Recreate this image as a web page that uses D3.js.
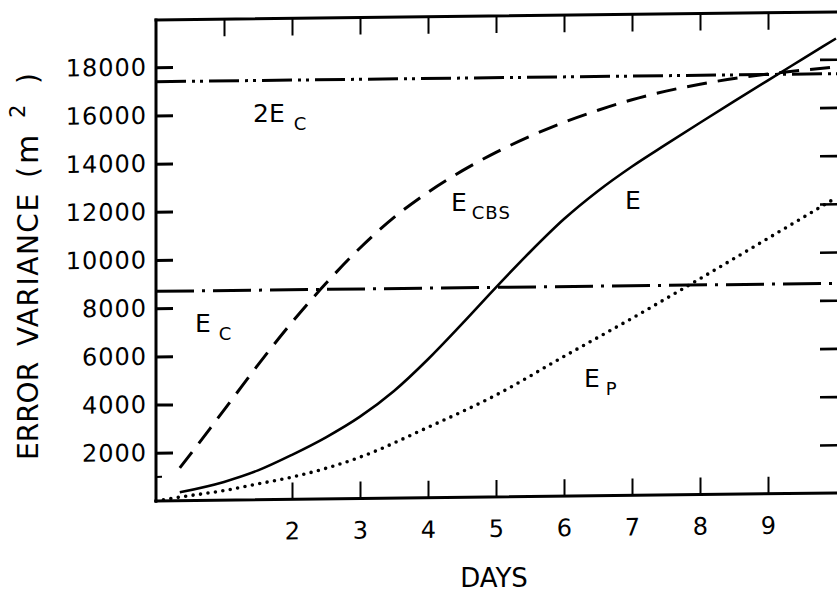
<!DOCTYPE html>
<html>
<head>
<meta charset="utf-8">
<script src="https://cdn.jsdelivr.net/npm/d3@7"></script>
<style>
  html, body { margin: 0; padding: 0; background: #fff; }
  svg { display: block; }
  text { font-family: "DejaVu Sans", sans-serif; fill: #000; }
</style>
</head>
<body>
<svg id="chart" width="837" height="596"></svg>
<script>
// Growth of forecast error variance (m^2) with forecast lead time (days)

const dayTicks = [2, 3, 4, 5, 6, 7, 8, 9];
const topDayTicks = [1, 2, 3, 4, 5, 6, 7, 8, 9];
const varianceTicks = [2000, 4000, 6000, 8000, 10000, 12000, 14000, 16000, 18000];
const minorVarianceTicks = [1000];

// climatological error variance E_C and its saturation level 2E_C
const climateVariance = 8700;
const saturationVariance = 2 * climateVariance;

// E : total forecast error variance
const errorTotal = [
  [0.35, 350], [1, 760], [1.5, 1220], [2, 1850], [2.5, 2560], [3, 3400],
  [3.5, 4450], [4, 5750], [4.5, 7200], [5, 8700], [5.5, 10150], [6, 11500],
  [6.5, 12650], [7, 13650], [7.5, 14550], [8, 15430], [8.5, 16300], [9, 17160],
  [9.5, 18010], [10, 18860]
];

// E_CBS
const errorCBS = [
  [0.35, 1360], [0.8, 3000], [1.15, 4300], [1.5, 5600], [2, 7350], [2.5, 8950],
  [3, 10400], [3.5, 11650], [4, 12680], [4.5, 13550], [5, 14300], [5.5, 14950],
  [6, 15520], [6.5, 16000], [7, 16420], [7.5, 16760], [8, 17030], [9, 17420],
  [10, 17680]
];

// E_P
const errorP = [
  [0, 0], [0.35, 150], [1, 400], [1.5, 660], [2, 925], [3, 1720], [4, 2925],
  [5, 4230], [6, 5800], [7, 7350], [8, 8960], [9, 10600], [10, 12250]
];

const svg = d3.select("#chart");
const x = d3.scaleLinear().domain([0, 10]).range([156, 836]);
const y = d3.scaleLinear().domain([0, 19960]).range([501, 20]);

const tickLen = 17;
const frameRight = 840;

// the plotted frame leans slightly: horizontal lines rise toward the right
const lean = 8 / (x(10) - x(0));
const plot = svg.append("g")
  .attr("transform", `matrix(1,${-lean},0,1,0,${lean * x(0)})`);

// frame
const frame = plot.append("g")
  .attr("fill", "none").attr("stroke", "#000").attr("stroke-width", 3)
  .attr("stroke-linecap", "square");
frame.append("line").attr("x1", x(0)).attr("x2", x(0)).attr("y1", y.range()[1]).attr("y2", y(0));
frame.append("line").attr("x1", x(0)).attr("x2", frameRight).attr("y1", y(0)).attr("y2", y(0));
frame.append("line").attr("x1", x(0)).attr("x2", frameRight).attr("y1", y.range()[1]).attr("y2", y.range()[1]);

// left axis, ticks pointing inward
const leftAxis = plot.append("g")
  .attr("transform", `translate(${x(0)},0)`)
  .call(d3.axisLeft(y).tickValues(varianceTicks).tickSize(-tickLen).tickSizeOuter(0)
    .tickPadding(9).tickFormat(d3.format("d")));
leftAxis.select(".domain").remove();
leftAxis.selectAll(".tick line").attr("stroke", "#000").attr("stroke-width", 3);
leftAxis.selectAll(".tick text")
  .style("font-size", "24px").style("letter-spacing", "1px")
  .attr("fill", "#000");

// minor tick on the left axis
plot.append("g").selectAll("line").data(minorVarianceTicks).join("line")
  .attr("x1", x(0)).attr("x2", x(0) + 6)
  .attr("y1", d => y(d)).attr("y2", d => y(d))
  .attr("stroke", "#000").attr("stroke-width", 2);

// right axis ticks
const rightAxis = plot.append("g")
  .attr("transform", `translate(${frameRight},0)`)
  .call(d3.axisRight(y).tickValues(varianceTicks).tickSize(-(frameRight - 820)).tickSizeOuter(0)
    .tickFormat(""));
rightAxis.select(".domain").remove();
rightAxis.selectAll(".tick line").attr("stroke", "#000").attr("stroke-width", 2.6);

// bottom axis
const bottomAxis = plot.append("g")
  .attr("transform", `translate(0,${y(0)})`)
  .call(d3.axisBottom(x).tickValues(dayTicks).tickSize(-tickLen).tickSizeOuter(0)
    .tickPadding(23).tickFormat(d3.format("d")));
bottomAxis.select(".domain").remove();
bottomAxis.selectAll(".tick line").attr("stroke", "#000").attr("stroke-width", 2);
bottomAxis.selectAll(".tick text").style("font-size", "24px").attr("fill", "#000");

// top axis ticks
const topAxis = plot.append("g")
  .attr("transform", `translate(0,${y.range()[1]})`)
  .call(d3.axisTop(x).tickValues(topDayTicks).tickSize(-tickLen).tickSizeOuter(0).tickFormat(""));
topAxis.select(".domain").remove();
topAxis.selectAll(".tick line").attr("stroke", "#000").attr("stroke-width", 2);

// horizontal reference levels E_C and 2E_C
const refLevels = plot.append("g").attr("fill", "none").attr("stroke", "#000").attr("stroke-width", 3);
refLevels.append("line")
  .attr("x1", x(0)).attr("x2", frameRight)
  .attr("y1", y(climateVariance)).attr("y2", y(climateVariance))
  .attr("stroke-dasharray", "38 8 3 8");
refLevels.append("line")
  .attr("x1", x(0)).attr("x2", frameRight)
  .attr("y1", y(saturationVariance)).attr("y2", y(saturationVariance))
  .attr("stroke-dasharray", "30 6 3 5 3 6");

// curves
const line = d3.line()
  .x(d => x(d[0]))
  .y(d => y(d[1]))
  .curve(d3.curveMonotoneX);

plot.append("path").datum(errorTotal)
  .attr("fill", "none").attr("stroke", "#000").attr("stroke-width", 2.6)
  .attr("d", line);

plot.append("path").datum(errorCBS)
  .attr("fill", "none").attr("stroke", "#000").attr("stroke-width", 3)
  .attr("stroke-dasharray", "20 11")
  .attr("d", line);

plot.append("path").datum(errorP)
  .attr("fill", "none").attr("stroke", "#000").attr("stroke-width", 3.6)
  .attr("stroke-linecap", "round")
  .attr("stroke-dasharray", "0 7.5")
  .attr("d", line);

// curve labels: main letter plus lowered subscript
function curveLabel(px, py, main, sub, gap) {
  const t = svg.append("text")
    .attr("x", px).attr("y", py)
    .style("font-size", "25px");
  t.append("tspan").text(main);
  if (sub) {
    t.append("tspan")
      .attr("dx", gap).attr("dy", 8)
      .style("font-size", "18px").style("letter-spacing", "1px")
      .text(sub);
  }
}
curveLabel(253, 122, "2E", "C", 9);
curveLabel(451, 211, "E", "CBS", 5);
curveLabel(625, 209, "E", null, 0);
curveLabel(195, 332, "E", "C", 8);
curveLabel(584, 387, "E", "P", 6);

// y-axis title, read bottom to top
const yTitle = svg.append("text")
  .attr("transform", "translate(38,460) rotate(-90)")
  .style("font-size", "28px");
yTitle.append("tspan").attr("x", 0).text("ERROR");
yTitle.append("tspan").attr("x", 114).style("letter-spacing", "1.5px").text("VARIANCE");
yTitle.append("tspan").attr("x", 282).text("(");
yTitle.append("tspan").attr("x", 296).style("font-size", "30px").text("m");
yTitle.append("tspan").attr("x", 342).attr("dy", -13).style("font-size", "21px").text("2");
yTitle.append("tspan").attr("x", 376).attr("dy", 13).text(")");

svg.append("text")
  .attr("x", 494).attr("y", 587)
  .attr("text-anchor", "middle")
  .style("font-size", "26px")
  .text("DAYS");
</script>
</body>
</html>
